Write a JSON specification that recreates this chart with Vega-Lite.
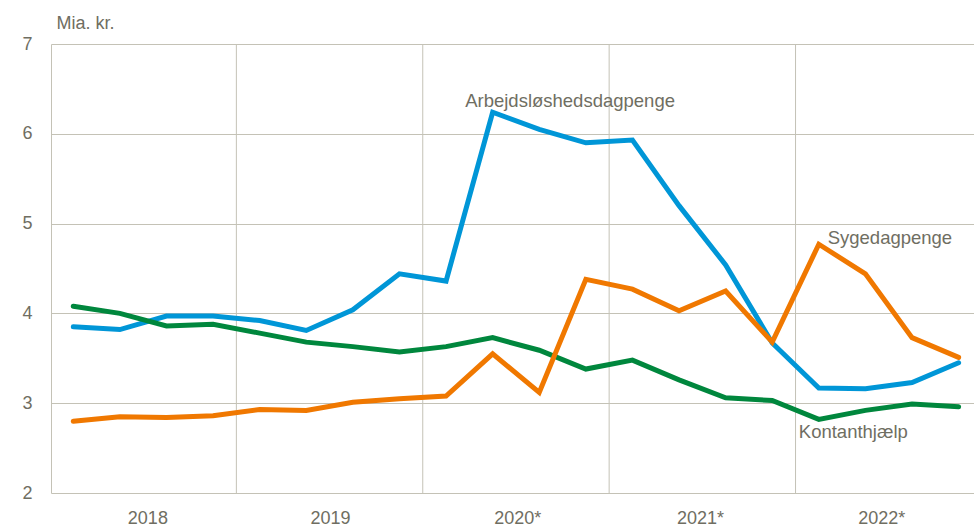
{
  "$schema": "https://vega.github.io/schema/vega-lite/v6.json",
  "width": 923,
  "height": 449,
  "autosize": {"type": "none"},
  "padding": {"left": 51, "top": 44, "right": 0, "bottom": 36},
  "background": "white",
  "config": {
    "view": {"stroke": null},
    "font": "Liberation Sans",
    "axis": {"labelFont": "Liberation Sans", "titleFont": "Liberation Sans"}
  },
  "datasets": {
    "series": [
      {"q": 0, "s": "Arbejdsløshedsdagpenge", "v": 3.85},
      {"q": 1, "s": "Arbejdsløshedsdagpenge", "v": 3.82},
      {"q": 2, "s": "Arbejdsløshedsdagpenge", "v": 3.97},
      {"q": 3, "s": "Arbejdsløshedsdagpenge", "v": 3.97},
      {"q": 4, "s": "Arbejdsløshedsdagpenge", "v": 3.92},
      {"q": 5, "s": "Arbejdsløshedsdagpenge", "v": 3.81},
      {"q": 6, "s": "Arbejdsløshedsdagpenge", "v": 4.04},
      {"q": 7, "s": "Arbejdsløshedsdagpenge", "v": 4.44},
      {"q": 8, "s": "Arbejdsløshedsdagpenge", "v": 4.36},
      {"q": 9, "s": "Arbejdsløshedsdagpenge", "v": 6.24},
      {"q": 10, "s": "Arbejdsløshedsdagpenge", "v": 6.05},
      {"q": 11, "s": "Arbejdsløshedsdagpenge", "v": 5.90},
      {"q": 12, "s": "Arbejdsløshedsdagpenge", "v": 5.93},
      {"q": 13, "s": "Arbejdsløshedsdagpenge", "v": 5.20},
      {"q": 14, "s": "Arbejdsløshedsdagpenge", "v": 4.54},
      {"q": 15, "s": "Arbejdsløshedsdagpenge", "v": 3.67},
      {"q": 16, "s": "Arbejdsløshedsdagpenge", "v": 3.17},
      {"q": 17, "s": "Arbejdsløshedsdagpenge", "v": 3.16},
      {"q": 18, "s": "Arbejdsløshedsdagpenge", "v": 3.23},
      {"q": 19, "s": "Arbejdsløshedsdagpenge", "v": 3.45},
      {"q": 0, "s": "Kontanthjælp", "v": 4.08},
      {"q": 1, "s": "Kontanthjælp", "v": 4.00},
      {"q": 2, "s": "Kontanthjælp", "v": 3.86},
      {"q": 3, "s": "Kontanthjælp", "v": 3.88},
      {"q": 4, "s": "Kontanthjælp", "v": 3.78},
      {"q": 5, "s": "Kontanthjælp", "v": 3.68},
      {"q": 6, "s": "Kontanthjælp", "v": 3.63},
      {"q": 7, "s": "Kontanthjælp", "v": 3.57},
      {"q": 8, "s": "Kontanthjælp", "v": 3.63},
      {"q": 9, "s": "Kontanthjælp", "v": 3.73},
      {"q": 10, "s": "Kontanthjælp", "v": 3.59},
      {"q": 11, "s": "Kontanthjælp", "v": 3.38},
      {"q": 12, "s": "Kontanthjælp", "v": 3.48},
      {"q": 13, "s": "Kontanthjælp", "v": 3.26},
      {"q": 14, "s": "Kontanthjælp", "v": 3.06},
      {"q": 15, "s": "Kontanthjælp", "v": 3.03},
      {"q": 16, "s": "Kontanthjælp", "v": 2.82},
      {"q": 17, "s": "Kontanthjælp", "v": 2.92},
      {"q": 18, "s": "Kontanthjælp", "v": 2.99},
      {"q": 19, "s": "Kontanthjælp", "v": 2.96},
      {"q": 0, "s": "Sygedagpenge", "v": 2.80},
      {"q": 1, "s": "Sygedagpenge", "v": 2.85},
      {"q": 2, "s": "Sygedagpenge", "v": 2.84},
      {"q": 3, "s": "Sygedagpenge", "v": 2.86},
      {"q": 4, "s": "Sygedagpenge", "v": 2.93},
      {"q": 5, "s": "Sygedagpenge", "v": 2.92},
      {"q": 6, "s": "Sygedagpenge", "v": 3.01},
      {"q": 7, "s": "Sygedagpenge", "v": 3.05},
      {"q": 8, "s": "Sygedagpenge", "v": 3.08},
      {"q": 9, "s": "Sygedagpenge", "v": 3.55},
      {"q": 10, "s": "Sygedagpenge", "v": 3.12},
      {"q": 11, "s": "Sygedagpenge", "v": 4.38},
      {"q": 12, "s": "Sygedagpenge", "v": 4.27},
      {"q": 13, "s": "Sygedagpenge", "v": 4.03},
      {"q": 14, "s": "Sygedagpenge", "v": 4.25},
      {"q": 15, "s": "Sygedagpenge", "v": 3.68},
      {"q": 16, "s": "Sygedagpenge", "v": 4.77},
      {"q": 17, "s": "Sygedagpenge", "v": 4.44},
      {"q": 18, "s": "Sygedagpenge", "v": 3.73},
      {"q": 19, "s": "Sygedagpenge", "v": 3.51}
    ],
    "separators": [{"q": 3.5}, {"q": 7.5}, {"q": 11.5}, {"q": 15.5}],
    "labels": [
      {"q": 8.41, "v": 6.36, "s": "Arbejdsløshedsdagpenge"},
      {"q": 16.19, "v": 4.84, "s": "Sygedagpenge"},
      {"q": 15.57, "v": 2.68, "s": "Kontanthjælp"}
    ]
  },
  "layer": [
    {
      "data": {"name": "separators"},
      "mark": {"type": "rule", "color": "#c4c2b6", "strokeWidth": 1},
      "encoding": {
        "x": {
          "field": "q", "type": "quantitative",
          "scale": {"domain": [-0.478, 19.33], "nice": false, "zero": false},
          "axis": {
            "values": [1.59, 5.51, 9.53, 13.45, 17.34],
            "labelExpr": "datum.value < 3 ? '2018' : datum.value < 7 ? '2019' : datum.value < 11 ? '2020*' : datum.value < 15 ? '2021*' : '2022*'",
            "title": null, "grid": false, "ticks": false, "domain": false,
            "labelFontSize": 18, "labelColor": "#6f6e62", "labelPadding": 16, "labelFlush": false
          }
        }
      }
    },
    {
      "data": {"name": "series"},
      "mark": {"type": "line", "strokeWidth": 5, "strokeCap": "round", "strokeJoin": "miter"},
      "encoding": {
        "x": {"field": "q", "type": "quantitative"},
        "y": {
          "field": "v", "type": "quantitative",
          "scale": {"domain": [2, 7], "nice": false, "zero": false},
          "axis": {
            "values": [2, 3, 4, 5, 6, 7], "format": "d",
            "title": "Mia. kr.", "titleAngle": 0, "titleAlign": "left", "titleBaseline": "middle",
            "titleX": 5, "titleY": -21, "titleFontSize": 18, "titleFontWeight": "normal", "titleColor": "#6f6e62",
            "grid": true, "gridColor": "#c4c2b6", "gridWidth": 1,
            "ticks": false, "domain": true, "domainColor": "#c4c2b6", "domainWidth": 1,
            "labelFontSize": 18, "labelColor": "#6f6e62", "labelPadding": 19
          }
        },
        "color": {
          "field": "s", "type": "nominal",
          "scale": {"domain": ["Arbejdsløshedsdagpenge", "Kontanthjælp", "Sygedagpenge"], "range": ["#0096d7", "#00873d", "#f07800"]},
          "legend": null
        },
        "order": {"field": "q"}
      }
    },
    {
      "data": {"name": "labels"},
      "mark": {"type": "text", "align": "left", "baseline": "middle", "fontSize": 18.5, "color": "#6f6e62", "font": "Liberation Sans"},
      "encoding": {
        "x": {"field": "q", "type": "quantitative"},
        "y": {"field": "v", "type": "quantitative"},
        "text": {"field": "s"}
      }
    }
  ]
}
